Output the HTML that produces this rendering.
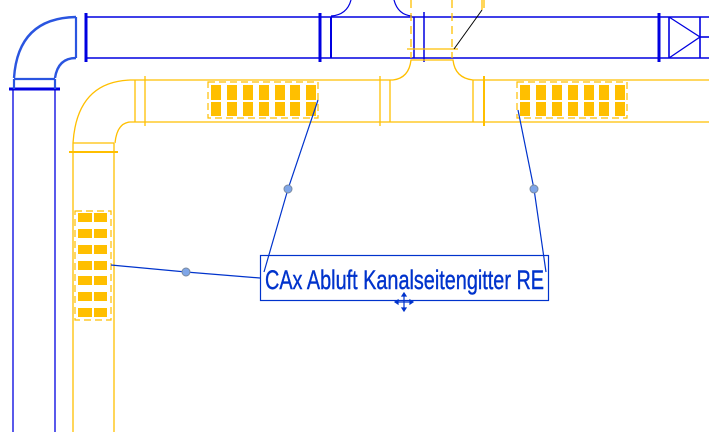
<!DOCTYPE html>
<html><head><meta charset="utf-8"><style>
html,body{margin:0;padding:0;background:#fff;width:709px;height:432px;overflow:hidden}
svg{display:block}
</style></head><body>
<svg width="709" height="432" viewBox="0 0 709 432" xmlns="http://www.w3.org/2000/svg">
<defs>
<g id="gh">
 <rect x="0" y="0" width="110" height="36" fill="none" stroke="#ffbf00" stroke-width="1.2" stroke-dasharray="7,4"/>
 <g fill="#ffbf00">
  <rect x="3" y="3" width="10" height="15"/><rect x="3" y="20" width="10" height="14"/>
  <rect x="19" y="3" width="10" height="15"/><rect x="19" y="20" width="10" height="14"/>
  <rect x="35" y="3" width="10" height="15"/><rect x="35" y="20" width="10" height="14"/>
  <rect x="51" y="3" width="10" height="15"/><rect x="51" y="20" width="10" height="14"/>
  <rect x="67" y="3" width="10" height="15"/><rect x="67" y="20" width="10" height="14"/>
  <rect x="82" y="3" width="10" height="15"/><rect x="82" y="20" width="10" height="14"/>
  <rect x="98" y="3" width="10" height="15"/><rect x="98" y="20" width="10" height="14"/>
 </g>
</g>
</defs>
<g stroke="#0000e0" fill="none" stroke-width="1.6">
 <line x1="86" y1="17" x2="709" y2="17"/>
 <line x1="86" y1="58" x2="709" y2="58"/>
 <path d="M76 17 Q18 18 14 78" stroke="#2a55e0" stroke-width="2.4"/>
 <path d="M76 58 Q58 58 55 78" stroke="#2a55e0" stroke-width="2.4"/>
 <line x1="76" y1="17" x2="76" y2="58" stroke="#2a55e0" stroke-width="2.2"/>
 <line x1="86" y1="13" x2="86" y2="62" stroke-width="3"/>
 <line x1="14" y1="79" x2="55" y2="79" stroke="#2a55e0" stroke-width="2.2"/>
 <line x1="9" y1="89" x2="60" y2="89" stroke-width="3"/>
 <line x1="14" y1="79" x2="14" y2="89" stroke="#2a55e0" stroke-width="2.2"/>
 <line x1="55" y1="79" x2="55" y2="89" stroke="#2a55e0" stroke-width="2.2"/>
 <line x1="13" y1="89" x2="13" y2="432" stroke-width="1.3"/>
 <line x1="55" y1="89" x2="55" y2="432" stroke-width="1.3"/>
 <line x1="320" y1="13" x2="320" y2="62" stroke-width="3"/>
 <line x1="331" y1="17" x2="331" y2="58" stroke-width="2"/>
 <path d="M331 16 Q347 15 351 0" stroke-width="1.2"/>
 <path d="M394 0 Q398 15 412 16" stroke-width="1.2"/>
 <line x1="414" y1="17" x2="414" y2="58" stroke-width="1.5"/>
 <line x1="424" y1="12" x2="424" y2="62" stroke-width="1.5"/>
 <line x1="659" y1="13" x2="659" y2="62" stroke-width="3"/>
 <line x1="669" y1="17" x2="669" y2="58"/>
 <path d="M669 17 L700 37 L669 58" stroke-width="1.3"/>
 <line x1="700" y1="17" x2="700" y2="58"/>
 <line x1="700" y1="37" x2="709" y2="37"/>
</g>
<g stroke="#ffbf00" fill="none" stroke-width="1.3">
 <line x1="130" y1="80" x2="393" y2="80"/>
 <line x1="473" y1="80" x2="709" y2="80"/>
 <line x1="130" y1="122" x2="709" y2="122"/>
 <path d="M130 80 Q77 82 73 143"/>
 <path d="M130 122 Q117 123 115 143"/>
 <line x1="135" y1="80" x2="135" y2="122"/>
 <line x1="145" y1="76" x2="145" y2="126"/>
 <line x1="73" y1="143" x2="114" y2="143"/>
 <line x1="69" y1="152" x2="118" y2="152" stroke-width="2"/>
 <line x1="73" y1="143" x2="73" y2="432"/>
 <line x1="114" y1="143" x2="114" y2="432"/>
 <path d="M393 80 Q409 78 411 60 L453 60 Q455 78 473 80"/>
 <line x1="380" y1="76" x2="380" y2="126"/>
 <line x1="390" y1="80" x2="390" y2="122"/>
 <line x1="473" y1="80" x2="473" y2="122"/>
 <line x1="484" y1="76" x2="484" y2="126" stroke-width="2"/>
 <line x1="411" y1="0" x2="411" y2="58" stroke-dasharray="8,5"/>
 <line x1="452" y1="0" x2="452" y2="58" stroke-dasharray="8,5"/>
 <line x1="407" y1="49" x2="458" y2="49"/>
 <line x1="482" y1="0" x2="482" y2="10"/>
 <line x1="484" y1="0" x2="484" y2="8"/>
</g>
<line x1="454" y1="49" x2="482" y2="10" stroke="#000" stroke-width="1"/>
<use href="#gh" x="208" y="82"/>
<use href="#gh" x="517" y="82"/>
<g>
 <rect x="75" y="211" width="36" height="109" fill="none" stroke="#ffbf00" stroke-width="1.2" stroke-dasharray="7,4"/>
 <g fill="#ffbf00">
  <rect x="78" y="213" width="14" height="9"/><rect x="94" y="213" width="13" height="9"/>
  <rect x="78" y="229" width="14" height="9"/><rect x="94" y="229" width="13" height="9"/>
  <rect x="78" y="245" width="14" height="9"/><rect x="94" y="245" width="13" height="9"/>
  <rect x="78" y="261" width="14" height="9"/><rect x="94" y="261" width="13" height="9"/>
  <rect x="78" y="276" width="14" height="9"/><rect x="94" y="276" width="13" height="9"/>
  <rect x="78" y="292" width="14" height="9"/><rect x="94" y="292" width="13" height="9"/>
  <rect x="78" y="308" width="14" height="9"/><rect x="94" y="308" width="13" height="9"/>
 </g>
</g>
<g stroke="#0033cc" stroke-width="1.2" fill="none">
 <polyline points="318,100 288,189 264,272"/>
 <polyline points="518,110 534,189 546,272"/>
 <polyline points="111,265 186,272 260,278"/>
</g>
<g fill="#7fa6e8" stroke="#7a8aa0" stroke-width="1">
 <circle cx="288" cy="189" r="4"/>
 <circle cx="534" cy="189" r="4"/>
 <circle cx="186" cy="272" r="4"/>
</g>
<rect x="260.5" y="255.5" width="288" height="45" fill="none" stroke="#0033cc" stroke-width="1.2"/>
<text x="265" y="289" font-family="Liberation Sans, sans-serif" font-size="27" fill="#0033cc" stroke="#0033cc" stroke-width="0.4" textLength="279" lengthAdjust="spacingAndGlyphs">CAx Abluft Kanalseitengitter RE</text>
<g stroke="#0033cc" stroke-width="1.2" fill="#0033cc">
 <line x1="397" y1="302" x2="411" y2="302"/>
 <line x1="404" y1="295" x2="404" y2="309"/>
 <path d="M404 293 L402 296 L406 296Z"/><path d="M404 311 L402 308 L406 308Z"/>
 <path d="M395 302 L398 300 L398 304Z"/><path d="M413 302 L410 300 L410 304Z"/>
</g>
</svg>
</body></html>
